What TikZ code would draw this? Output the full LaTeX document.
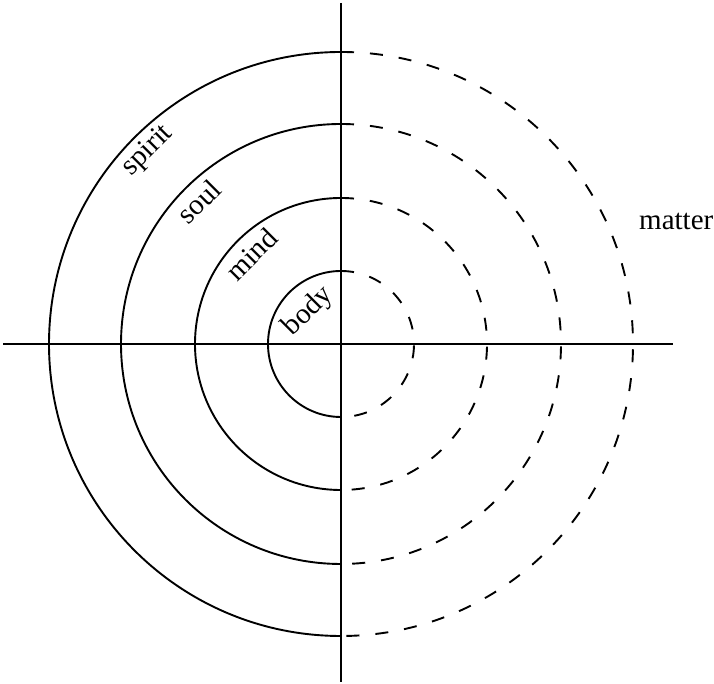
\documentclass[tikz,border=0pt]{standalone}
\usepackage{fontspec}
\setmainfont{Liberation Serif}
\begin{document}
\begin{tikzpicture}[x=1pt,y=1pt,
  axis/.style={line width=1.8pt},
  solidarc/.style={line width=1.9pt},
  dasharc/.style={line width=1.9pt, dash pattern=on 13pt off 16pt},
  lab/.style={font=\fontsize{29}{31}\selectfont, inner sep=0pt}]
\useasboundingbox (0,0) rectangle (714,684);
\coordinate (O) at (341,340);
\coordinate (L) at (3,340);
\coordinate (R) at (673,340);
\coordinate (T) at (341,681);
\coordinate (B) at (341,2);
\draw[axis] (L) -- (R);
\draw[axis] (T) -- (B);
\foreach \r in {73,146,220,292}{
  \draw[solidarc] (O) ++(90:\r) arc[start angle=90, end angle=270, radius=\r];
  \draw[dasharc] (O) ++(90:\r) arc[start angle=90, end angle=-90, radius=\r];
}
\path (O) ++(135:273) node[lab, rotate=45] (spirit) {spirit};
\path (O) ++(135:201) node[lab, rotate=45] (soul) {soul};
\path (O) ++(135:127) node[lab, rotate=45] (mind) {mind};
\path (O) ++(135:46) node[lab, rotate=45] (body) {body};
\node[lab, anchor=base west] (matter) at (639,454) {matter};
\end{tikzpicture}
\end{document}
